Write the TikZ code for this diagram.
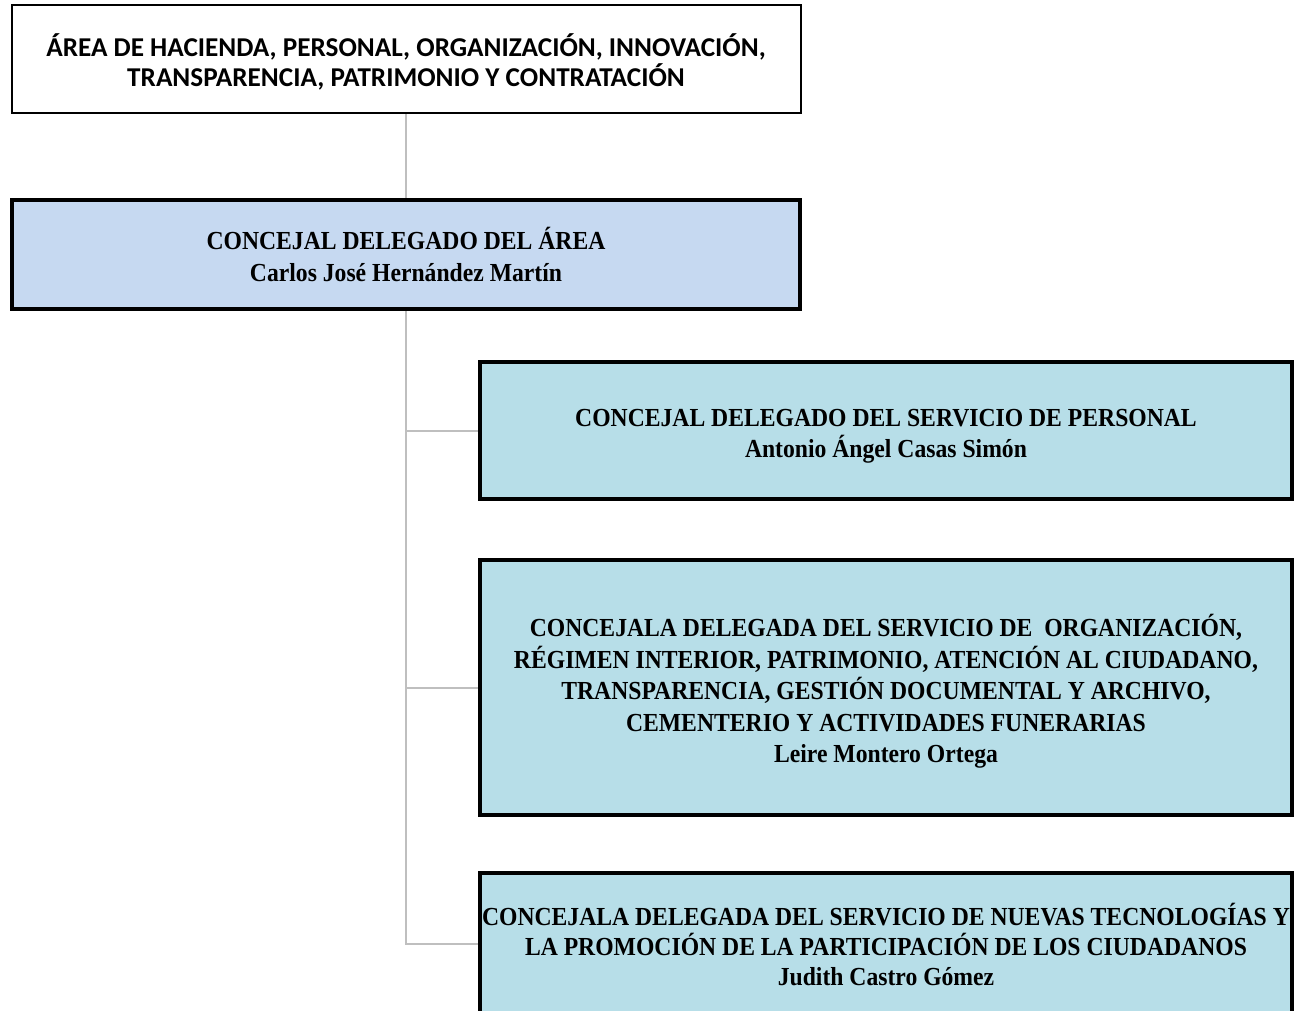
\documentclass[tikz,border=0pt]{standalone}
\usepackage{fontspec}
\setmainfont{Liberation Serif}[FakeStretch=0.91]
\newfontfamily\calib{Carlito}
\definecolor{boxblue}{HTML}{C6D9F1}
\definecolor{boxteal}{HTML}{B7DEE8}
\definecolor{linegray}{HTML}{BFBFBF}
\begin{document}
\begin{tikzpicture}[x=0.75pt,y=-0.75pt,
  topbox/.style={draw=black,line width=1.5pt,fill=white,inner sep=0pt},
  mainbox/.style={draw=black,line width=3pt,fill=boxblue,inner sep=0pt},
  subbox/.style={draw=black,line width=3pt,fill=boxteal,inner sep=0pt},
  toptext/.style={align=center,inner sep=0pt,font=\calib\bfseries\fontsize{20.4}{22.5}\selectfont},
  subtext/.style={align=center,inner sep=0pt,font=\bfseries\fontsize{19.5}{23.6}\selectfont},
  conn/.style={draw=linegray,line width=1.5pt}]
\useasboundingbox (0,0) rectangle (1294,1010);
\node[topbox,minimum width=789*0.75pt,minimum height=108*0.75pt] (area) at (406,59) {};
\node[toptext] (areat) at (406,62)
  {ÁREA DE HACIENDA, PERSONAL, ORGANIZACIÓN, INNOVACIÓN,\\TRANSPARENCIA, PATRIMONIO Y CONTRATACIÓN};
\node[mainbox,minimum width=788*0.75pt,minimum height=109*0.75pt] (conc) at (406,254.5) {};
\node[subtext,font=\bfseries\fontsize{19.5}{24}\selectfont] (conct) at (406,254)
  {CONCEJAL DELEGADO DEL ÁREA\\Carlos José Hernández Martín};
\node[subbox,minimum width=812*0.75pt,minimum height=137*0.75pt] (pers) at (886,430.5) {};
\node[subtext] (perst) at (886,436)
  {CONCEJAL DELEGADO DEL SERVICIO DE PERSONAL\\Antonio Ángel Casas Simón};
\node[subbox,minimum width=812*0.75pt,minimum height=255*0.75pt] (org) at (886,687.5) {};
\node[subtext] (orgt) at (886,691.5)
  {CONCEJALA DELEGADA DEL SERVICIO DE \ ORGANIZACIÓN,\\RÉGIMEN INTERIOR, PATRIMONIO, ATENCIÓN AL CIUDADANO,\\TRANSPARENCIA, GESTIÓN DOCUMENTAL Y ARCHIVO,\\CEMENTERIO Y ACTIVIDADES FUNERARIAS\\Leire Montero Ortega};
\node[subbox,minimum width=812*0.75pt,minimum height=141*0.75pt] (tec) at (886,943.5) {};
\node[subtext,font=\bfseries\fontsize{19.5}{22.5}\selectfont] (tect) at (886,944)
  {CONCEJALA DELEGADA DEL SERVICIO DE NUEVAS TECNOLOGÍAS Y\\LA PROMOCIÓN DE LA PARTICIPACIÓN DE LOS CIUDADANOS\\Judith Castro Gómez};
\draw[conn] (area.south) -- (conc.north);
\draw[conn] (conc.south) |- (pers.west);
\draw[conn] (conc.south) |- (org.west);
\draw[conn] (conc.south) |- (tec.west);
\end{tikzpicture}
\end{document}
